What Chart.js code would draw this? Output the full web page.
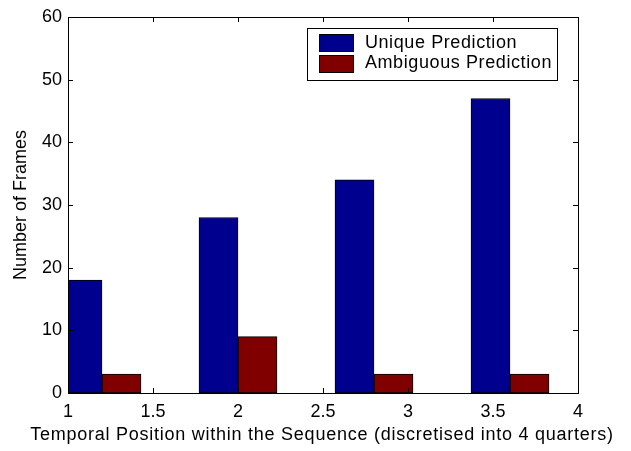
<!DOCTYPE html>
<html>
<head>
<meta charset="utf-8">
<script src="https://cdn.jsdelivr.net/npm/chart.js@4/dist/chart.umd.min.js"></script>
<style>
  html, body { margin: 0; padding: 0; background: #fff; }
  #wrap { width: 631px; height: 451px; }
</style>
</head>
<body>
<div id="wrap"><canvas id="chart" width="631" height="451"></canvas></div>
<script>
// bar group positions (x) and counts per series
const positions = [1.2, 2.0, 2.8, 3.6];
const uniqueCounts = [18, 28, 34, 47];
const ambiguousCounts = [3, 9, 3, 3];
const seriesNames = ['Unique Prediction', 'Ambiguous Prediction'];
const xTicks = [1, 1.5, 2, 2.5, 3, 3.5, 4];
const yTicks = [0, 10, 20, 30, 40, 50, 60];
const xLabel = 'Temporal Position within the Sequence (discretised into 4 quarters)';
const yLabel = 'Number of Frames';

const FONT = '"Liberation Sans", Arial, Helvetica, sans-serif';
const fontSize = 18;

// the x title is wider than the axes, chart.js would squeeze it, so draw it here
const xTitlePlugin = {
    id: 'xTitle',
    afterDraw(chart) {
        const { ctx, chartArea: a } = chart;
        ctx.save();
        ctx.letterSpacing = '0.75px';
        ctx.font = fontSize + 'px ' + FONT;
        ctx.fillStyle = '#000';
        ctx.textAlign = 'center';
        ctx.textBaseline = 'middle';
        ctx.fillText(xLabel, (a.left + a.right) / 2 - 1, 435);
        ctx.restore();
    }
};

// frame with inward ticks on all four sides, like a matlab axes box
const framePlugin = {
    id: 'frame',
    afterDatasetsDraw(chart) {
        const { ctx, chartArea: a, scales } = chart;
        const tl = 5;
        ctx.save();
        ctx.strokeStyle = '#000';
        ctx.lineWidth = 1;
        ctx.strokeRect(a.left + 0.5, a.top + 0.5, a.right - a.left, a.bottom - a.top);
        ctx.beginPath();
        xTicks.forEach(v => {
            const px = Math.round(scales.x.getPixelForValue(v)) + 0.5;
            ctx.moveTo(px, a.bottom);
            ctx.lineTo(px, a.bottom - tl);
            ctx.moveTo(px, a.top);
            ctx.lineTo(px, a.top + tl);
        });
        yTicks.forEach(v => {
            const py = Math.round(scales.y.getPixelForValue(v)) + 0.5;
            ctx.moveTo(a.left, py);
            ctx.lineTo(a.left + tl, py);
            ctx.moveTo(a.right, py);
            ctx.lineTo(a.right - tl, py);
        });
        ctx.stroke();
        ctx.restore();
    }
};

// boxed legend drawn inside the axes, top right
const legendPlugin = {
    id: 'boxLegend',
    afterDraw(chart) {
        const { ctx, chartArea: a } = chart;
        const sets = chart.data.datasets;
        ctx.save();
        ctx.letterSpacing = '0.6px';
        ctx.font = fontSize + 'px ' + FONT;
        const textW = Math.max(...sets.map(d => ctx.measureText(d.label).width));
        const symW = 34, symH = 17, gap = 12, rowH = 20.7;
        const boxW = gap + symW + gap + textW + 5;
        const boxH = 52;
        const right = a.right - 21;
        const left = right - boxW;
        const top = a.top + 11;
        ctx.fillStyle = '#fff';
        ctx.fillRect(left, top, boxW, boxH);
        ctx.strokeStyle = '#000';
        ctx.lineWidth = 1;
        ctx.strokeRect(Math.round(left) + 0.5, Math.round(top) + 0.5, Math.round(boxW), boxH);
        sets.forEach((d, i) => {
            const cy = top + 14.7 + i * rowH;
            const sx = Math.round(left + gap);
            ctx.fillStyle = d.backgroundColor;
            ctx.fillRect(sx, Math.round(cy - symH / 2), symW, symH);
            ctx.strokeStyle = '#000';
            ctx.strokeRect(sx + 0.5, Math.round(cy - symH / 2) + 0.5, symW, symH);
            ctx.fillStyle = '#000';
            ctx.textBaseline = 'middle';
            ctx.textAlign = 'left';
            ctx.fillText(d.label, left + gap + symW + gap, cy);
        });
        ctx.restore();
    }
};

const toPoints = vals => positions.map((x, i) => ({ x: x, y: vals[i] }));

new Chart(document.getElementById('chart'), {
    type: 'bar',
    data: {
        datasets: [{
            label: seriesNames[0],
            data: toPoints(uniqueCounts),
            backgroundColor: '#00008F',
            borderColor: '#000',
            borderWidth: 1,
            borderSkipped: false,
            clip: 0
        }, {
            label: seriesNames[1],
            data: toPoints(ambiguousCounts),
            backgroundColor: '#800000',
            borderColor: '#000',
            borderWidth: 1,
            borderSkipped: false,
            clip: 0
        }]
    },
    options: {
        responsive: false,
        animation: false,
        barThickness: 39,
        layout: { padding: { top: 17, right: 53, left: 0, bottom: 0 } },
        plugins: {
            legend: { display: false },
            tooltip: { enabled: false }
        },
        scales: {
            x: {
                type: 'linear',
                min: 1,
                max: 4,
                offset: false,
                afterBuildTicks: s => { s.ticks = xTicks.map(v => ({ value: v })); },
                afterFit: s => { s.height = 58; },
                grid: { display: false, drawTicks: false },
                border: { display: false },
                ticks: {
                    color: '#000',
                    padding: 8,
                    maxRotation: 0,
                    autoSkip: false,
                    font: { family: FONT, size: fontSize },
                    callback: v => String(v)
                }
            },
            y: {
                min: 0,
                max: 60,
                afterBuildTicks: s => { s.ticks = yTicks.map(v => ({ value: v })); },
                afterFit: s => { s.width = 68; },
                grid: { display: false, drawTicks: false },
                border: { display: false },
                ticks: {
                    color: '#000',
                    padding: 6,
                    font: { family: FONT, size: fontSize }
                },
                title: {
                    display: true,
                    text: yLabel,
                    color: '#000',
                    font: { family: FONT, size: fontSize },
                    padding: { top: 10, bottom: 0 }
                }
            }
        }
    },
    plugins: [framePlugin, legendPlugin, xTitlePlugin]
});
</script>
</body>
</html>
